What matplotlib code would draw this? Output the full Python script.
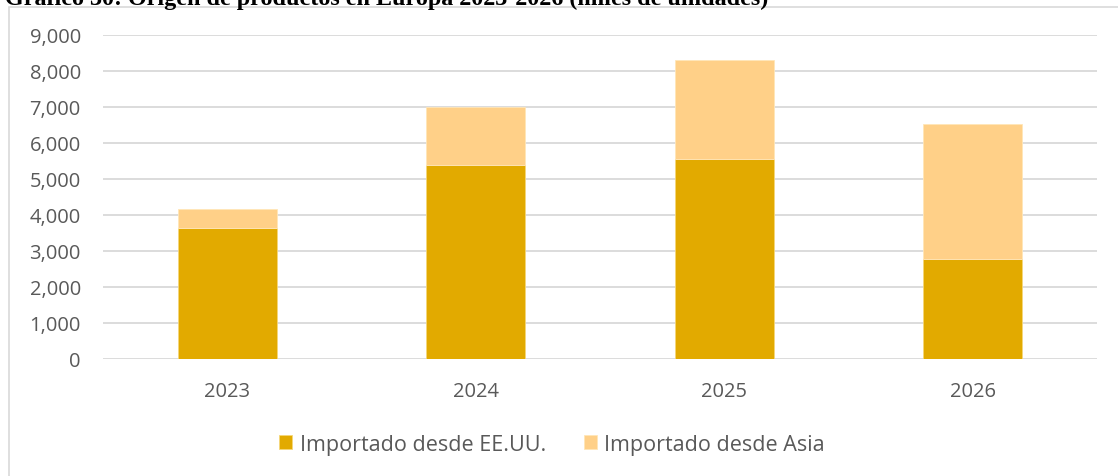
import matplotlib.pyplot as plt
import matplotlib.ticker as mticker
from matplotlib.patches import Rectangle
import numpy as np

years = ['2023', '2024', '2025', '2026']
eeuu = [3650, 5380, 5550, 2790]
asia = [520, 1620, 2750, 3730]
labels = ['Importado desde EE.UU.', 'Importado desde Asia']

W, H = 1118, 477
fig = plt.figure(figsize=(W / 100, H / 100), dpi=100)
ax = fig.add_axes([103 / W, (H - 360) / H, 994 / W, 324 / H])

txt_font = ['Open Sans', 'DejaVu Sans']
grey = '#595959'

x = np.arange(len(years))
ax.bar(x, eeuu, width=0.4, color='#E2AA00', edgecolor='#F5D77A', linewidth=0.6,
       label=labels[0], zorder=3)
ax.bar(x, asia, width=0.4, bottom=eeuu, color='#FFD088', edgecolor='#FFE6B8',
       linewidth=0.6, label=labels[1], zorder=3)

ax.set_xlim(-0.5, 3.5)
ax.set_ylim(0, 9000)
ax.set_yticks(np.arange(0, 9001, 1000))
ax.yaxis.set_major_formatter(mticker.FuncFormatter(lambda v, p: f'{int(v):,}'))
ax.set_xticks(x)
ax.set_xticklabels(years)
ax.grid(axis='y', color='#D9D9D9', linewidth=1.3, zorder=0)
for s in ax.spines.values():
    s.set_visible(False)
ax.tick_params(length=0, labelcolor=grey, labelsize=14.5)
ax.tick_params(axis='y', pad=16)
ax.tick_params(axis='x', pad=16)
for t in ax.get_xticklabels() + ax.get_yticklabels():
    t.set_family(txt_font)

fig.legend(loc='center', bbox_to_anchor=(552 / W, 1 - 445 / H), ncol=2,
           frameon=False, handlelength=0.6, handleheight=0.6,
           handletextpad=0.35, columnspacing=1.75,
           prop={'family': txt_font, 'size': 15.5}, labelcolor=grey)

# chart frame (left and top edges visible)
fig.patches.append(Rectangle((9 / W, -0.2), 2, 1.2 - 7.5 / H, transform=fig.transFigure,
                             fill=False, edgecolor='#D9D9D9', linewidth=1.2))

fig.text(5 / W, 1 - 5 / H,
         'Gráfico 30: Origen de productos en Europa 2023-2026 (miles de unidades)',
         va='baseline', ha='left', family=['Liberation Serif', 'DejaVu Serif'],
         weight='bold', fontsize=17.4, color='black')

fig.savefig('out.png', dpi=100)
